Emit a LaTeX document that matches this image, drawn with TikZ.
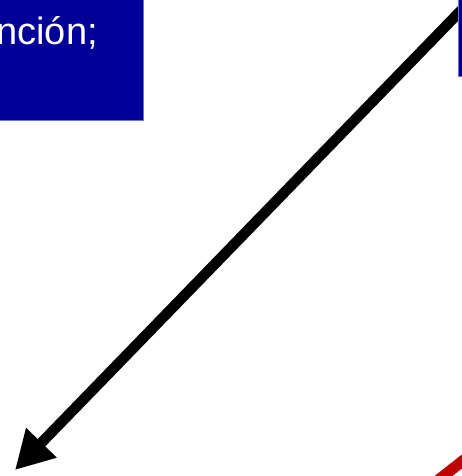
\documentclass[tikz,border=0pt]{standalone}
\usepackage{fontspec}
\setmainfont{Liberation Sans}
\usetikzlibrary{arrows.meta,positioning}
\definecolor{boxblue}{HTML}{000099}
\definecolor{edgeblue}{HTML}{7070D0}
\definecolor{linered}{HTML}{C00000}
\begin{document}
\begin{tikzpicture}[x=1pt,y=1pt,
  panel/.style={fill=boxblue,draw=edgeblue,line width=0.8pt,inner sep=0pt},
  caption/.style={text=white,font=\fontsize{38}{45}\selectfont,inner sep=0pt},
  pointer/.style={line width=10.5pt,-{Triangle[length=38pt,width=40pt]}}
]
\useasboundingbox (0,0) rectangle (462,476);
\clip (0,0) rectangle (462,476);
% lines behind the panels
\coordinate (start) at (476,481);
\coordinate (tip) at (15,6);
\draw[pointer] (start) -- (tip);
\coordinate (redA) at (418,-20);
\coordinate (redB) at (488,35);
\draw[linered,line width=11pt] (redA) -- (redB);
% panels
\node[panel,minimum width=200pt,minimum height=200pt,anchor=south east] (leftpanel) at (144,355) {};
\node[caption,anchor=base east] (title) at (98,431) {nción;};
\node[panel,minimum width=60pt,minimum height=150pt,anchor=south west] (rightpanel) at (457.5,399) {};
\end{tikzpicture}
\end{document}
